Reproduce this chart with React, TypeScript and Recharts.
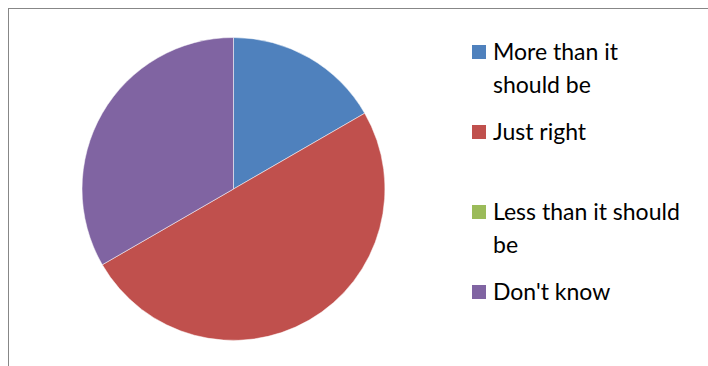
import { PieChart, Pie, Cell, Legend } from "recharts";

const CATEGORIES = [
  "More than it should be",
  "Just right",
  "Less than it should be",
  "Don't know",
];
const VALUES = [1, 3, 0, 2];
const COLORS = ["#4f81bd", "#c0504d", "#9bbb59", "#8064a2"];

const data = CATEGORIES.map((name, i) => ({ name, value: VALUES[i] }));

const FONT = "Lato, 'Open Sans', sans-serif";

function LegendBox() {
  return (
    <div style={{ fontFamily: FONT, fontSize: 23, color: "#000" }}>
      {data.map((d, i) => (
        <div key={d.name} style={{ position: "relative", height: 80 }}>
          <div
            style={{
              position: "absolute",
              left: 0,
              top: 10,
              width: 14,
              height: 14,
              background: COLORS[i],
            }}
          />
          <div
            style={{
              position: "absolute",
              left: 21,
              top: 0,
              width: 192,
              lineHeight: "33px",
            }}
          >
            {d.name}
          </div>
        </div>
      ))}
    </div>
  );
}

export default function App() {
  return (
    <div
      style={{
        position: "absolute",
        left: 8,
        top: 8,
        width: 700,
        height: 358,
        boxSizing: "border-box",
        borderTop: "1px solid #878787",
        borderLeft: "1px solid #878787",
        background: "#fff",
      }}
    >
      <PieChart
        width={699}
        height={357}
        margin={{ top: 0, right: 0, bottom: 0, left: 0 }}
      >
        <Pie
          data={data}
          dataKey="value"
          nameKey="name"
          cx={224.5}
          cy={180}
          outerRadius={151.5}
          startAngle={90}
          endAngle={-270}
          stroke="#ffffff"
          strokeWidth={0.5}
          isAnimationActive={false}
        >
          {data.map((d, i) => (
            <Cell key={d.name} fill={COLORS[i]} />
          ))}
        </Pie>
        <Legend
          layout="vertical"
          content={() => <LegendBox />}
          wrapperStyle={{ left: 463, top: 26, width: 235 }}
        />
      </PieChart>
    </div>
  );
}
